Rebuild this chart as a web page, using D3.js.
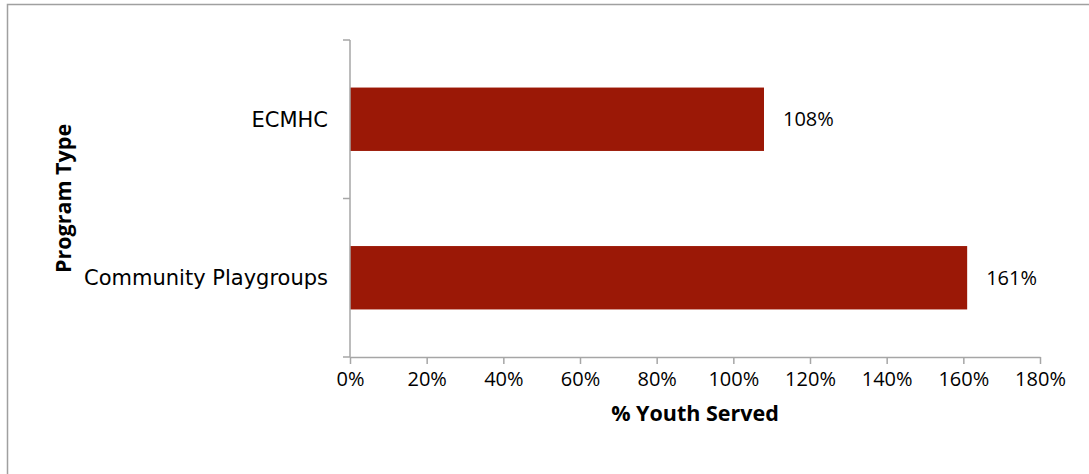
<!DOCTYPE html>
<html>
<head>
<meta charset="utf-8">
<script src="https://cdn.jsdelivr.net/npm/d3@7"></script>
<style>
  html, body { margin: 0; padding: 0; background: #ffffff; }
  svg { display: block; }
  text { font-family: "Open Sans", "Noto Sans", sans-serif; fill: #000; }
</style>
</head>
<body>
<svg id="chart" width="1089" height="474"></svg>
<script>
// Program categories, top to bottom
const categories = ["ECMHC", "Community Playgroups"];
// Percent of youth served per program
const values = [108, 161];
// X axis tick values (percent)
const xTicks = [0, 20, 40, 60, 80, 100, 120, 140, 160, 180];

const svg = d3.select("#chart");
const W = 1089, H = 474;
const margin = { left: 350, right: 49, top: 40, bottom: 117 };
const innerW = W - margin.left - margin.right;
const innerH = H - margin.top - margin.bottom;
const axisColor = "#a6a6a6";
const barColor = "#9b1806";

// Chart frame
svg.append("rect")
  .attr("x", 7.5).attr("y", 4.5)
  .attr("width", W + 10).attr("height", H + 10)
  .attr("fill", "none").attr("stroke", "#a0a0a0").attr("stroke-width", 1.5);

const g = svg.append("g").attr("transform", `translate(${margin.left},${margin.top})`);

const x = d3.scaleLinear().domain([0, 180]).range([0, innerW]);
const y = d3.scaleBand().domain(categories).range([0, innerH]).paddingInner(0.6).paddingOuter(0.3);

// Bars
g.selectAll("rect.bar").data(categories).join("rect")
  .attr("class", "bar")
  .attr("x", x(0))
  .attr("y", d => y(d))
  .attr("width", (d, i) => x(values[i]) - x(0))
  .attr("height", y.bandwidth())
  .attr("fill", barColor);

// Value labels
g.selectAll("text.val").data(categories).join("text")
  .attr("class", "val")
  .attr("x", (d, i) => x(values[i]) + 19)
  .attr("y", d => y(d) + y.bandwidth() / 2)
  .attr("dy", "0.35em")
  .style("font-size", "20px")
  .text((d, i) => values[i] + "%");

// X axis
const xAxis = g.append("g").attr("transform", `translate(0,${innerH})`)
  .call(d3.axisBottom(x).tickValues(xTicks).tickFormat(d => d + "%").tickSize(7).tickSizeOuter(0));
xAxis.select(".domain").attr("stroke", axisColor).attr("stroke-width", 1.5);
xAxis.selectAll(".tick line").attr("stroke", axisColor).attr("stroke-width", 1.5);
xAxis.selectAll(".tick text").attr("y", 22).attr("dy", "0.35em")
  .style("font-size", "20px").style("font-family", "'Open Sans', sans-serif");

// Y axis: line with boundary ticks between categories
g.append("line")
  .attr("x1", 0).attr("x2", 0).attr("y1", 0).attr("y2", innerH)
  .attr("stroke", axisColor).attr("stroke-width", 1.5);
const step = innerH / categories.length;
g.selectAll("line.ytick").data(d3.range(categories.length + 1)).join("line")
  .attr("class", "ytick")
  .attr("x1", -7).attr("x2", 0)
  .attr("y1", d => d * step).attr("y2", d => d * step)
  .attr("stroke", axisColor).attr("stroke-width", 1.5);

// Category labels
g.selectAll("text.cat").data(categories).join("text")
  .attr("class", "cat")
  .attr("x", -22)
  .attr("y", d => y(d) + y.bandwidth() / 2)
  .attr("dy", "0.35em")
  .attr("text-anchor", "end")
  .style("font-family", "'DejaVu Sans', sans-serif")
  .style("font-size", "21px")
  .text(d => d);

// Axis titles
g.append("text")
  .attr("x", innerW / 2).attr("y", innerH + 56)
  .attr("dy", "0.35em")
  .attr("text-anchor", "middle")
  .style("font-size", "21.5px").style("font-weight", "bold")
  .text("% Youth Served");

svg.append("text")
  .attr("transform", `translate(63,${margin.top + innerH / 2}) rotate(-90)`)
  .attr("dy", "0.35em")
  .attr("text-anchor", "middle")
  .style("font-size", "21.5px").style("font-weight", "bold")
  .text("Program Type");
</script>
</body>
</html>
